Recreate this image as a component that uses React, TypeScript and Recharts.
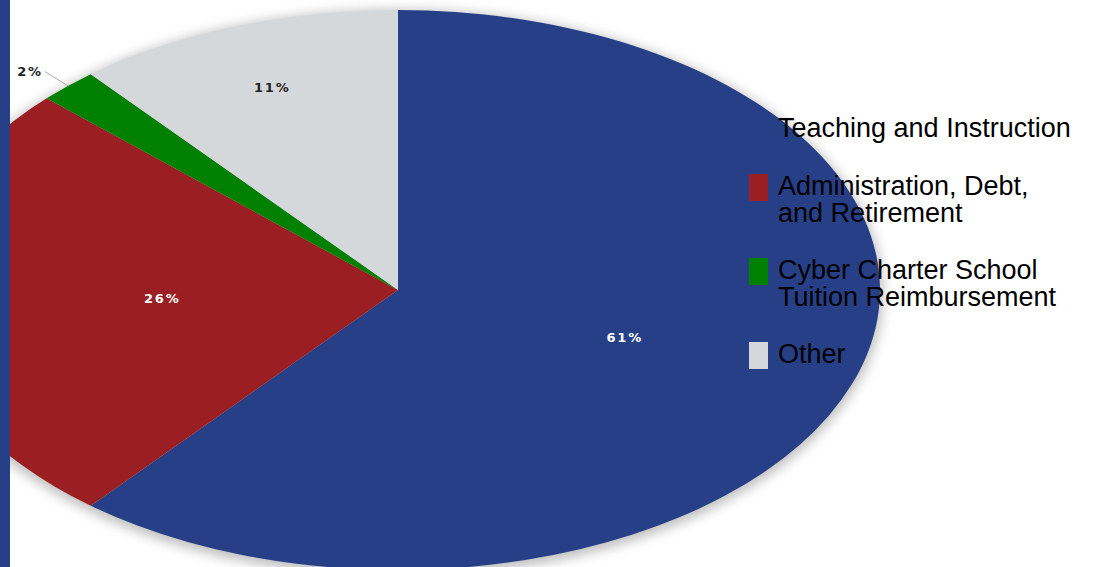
import React from 'react';
import { PieChart, Pie, Cell, Legend } from 'recharts';

const categories = [
  'Teaching and Instruction',
  'Administration, Debt, and Retirement',
  'Cyber Charter School Tuition Reimbursement',
  'Other',
];
const shares = [61, 26, 2, 11];
const legendLines = [
  ['Teaching and Instruction'],
  ['Administration, Debt,', 'and Retirement'],
  ['Cyber Charter School', 'Tuition Reimbursement'],
  ['Other'],
];

const COLORS = ['#263F87', '#9B1E22', '#008000', '#D5D8DB'];
const LABEL_COLORS = ['#FFFFFF', '#FFFFFF', '#222222', '#222222'];
const LABEL_RADIUS = [0.5, 0.49, 1.07, 0.77];
const RATIO = 482 / 280;
const RAD = Math.PI / 180;

const data = categories.map((name, i) => ({ name, value: shares[i] }));
const backdrop = [{ name: 'shadow', value: 1 }];

const ellipsePoint = (cx: number, cy: number, r: number, a: number, f = 1) => [
  cx + r * RATIO * f * Math.cos(-a * RAD),
  cy + r * f * Math.sin(-a * RAD),
];

const EllipseSector = (props: any) => {
  const { cx, cy, outerRadius, startAngle, endAngle, fill } = props;
  const rx = outerRadius * RATIO;
  const ry = outerRadius;
  const [x1, y1] = ellipsePoint(cx, cy, outerRadius, startAngle);
  const [x2, y2] = ellipsePoint(cx, cy, outerRadius, endAngle);
  const large = Math.abs(endAngle - startAngle) > 180 ? 1 : 0;
  const sweep = startAngle > endAngle ? 1 : 0;
  const d = `M${cx},${cy} L${x1},${y1} A${rx},${ry} 0 ${large} ${sweep} ${x2},${y2} Z`;
  return <path d={d} fill={fill} stroke="none" />;
};

const ShadowShape = (props: any) => {
  const { cx, cy, outerRadius } = props;
  return (
    <g>
      <defs>
        <filter id="pieShadow" x="-20%" y="-20%" width="140%" height="140%">
          <feGaussianBlur stdDeviation="6" />
        </filter>
      </defs>
      <ellipse
        cx={cx}
        cy={cy + 3}
        rx={outerRadius * RATIO + 3}
        ry={outerRadius + 3}
        fill="#8a8a8a"
        opacity={0.55}
        filter="url(#pieShadow)"
      />
    </g>
  );
};

const renderLabel = (props: any) => {
  const { cx, cy, midAngle, outerRadius, index, value } = props;
  const f = LABEL_RADIUS[index];
  const [x, y] = ellipsePoint(cx, cy, outerRadius, midAngle, f);
  const text = `${value}%`;
  const style = {
    fontFamily: 'DejaVu Sans, Verdana, sans-serif',
    fontWeight: 700,
    fontSize: 13,
    letterSpacing: 1.8,
  } as React.CSSProperties;
  if (f > 1) {
    const [ex, ey] = ellipsePoint(cx, cy, outerRadius, midAngle, 1);
    return (
      <g>
        <polyline points={`${ex},${ey} ${x},${y}`} stroke="#aaaaaa" strokeWidth={1} fill="none" />
        <text x={x - 2} y={y} textAnchor="end" dominantBaseline="central" fill={LABEL_COLORS[index]} style={style}>
          {text}
        </text>
      </g>
    );
  }
  return (
    <text x={x} y={y} textAnchor="middle" dominantBaseline="central" fill={LABEL_COLORS[index]} style={style}>
      {text}
    </text>
  );
};

const renderLegend = (props: any) => {
  const payload = (props.payload || [])
    .filter((e: any) => categories.indexOf(e.value) >= 0)
    .sort((a: any, b: any) => categories.indexOf(a.value) - categories.indexOf(b.value));
  return (
    <div style={{ fontFamily: 'Liberation Sans, Arial, sans-serif', fontSize: 27, lineHeight: '27px', color: '#000' }}>
      {payload.map((entry: any, i: number) => {
        const idx = categories.indexOf(entry.value);
        const lines = legendLines[idx];
        return (
          <div key={i} style={{ display: 'flex', alignItems: 'flex-start', marginBottom: 30 }}>
            <div style={{ width: 19, height: 27, marginTop: 1, marginRight: 10, background: COLORS[idx], flex: 'none' }} />
            <div style={{ whiteSpace: 'nowrap' }}>
              {lines.map((l: string, j: number) => (
                <div key={j} style={{ height: 27 }}>{l}</div>
              ))}
            </div>
          </div>
        );
      })}
    </div>
  );
};

export default function App() {
  return (
    <div style={{ position: 'absolute', left: 0, top: 0, width: 1103, height: 567, background: '#fff', overflow: 'hidden' }}>
      <PieChart width={1103} height={567} margin={{ top: 0, right: 0, bottom: 0, left: 0 }}>
        <Pie
          data={backdrop}
          dataKey="value"
          cx={398}
          cy={290}
          outerRadius={280}
          startAngle={90}
          endAngle={-270}
          isAnimationActive={false}
          legendType="none"
          shape={ShadowShape}
          activeShape={ShadowShape}
          label={false}
          labelLine={false}
        >
          <Cell fill="#888" />
        </Pie>
        <Pie
          data={data}
          dataKey="value"
          nameKey="name"
          cx={398}
          cy={290}
          outerRadius={280}
          startAngle={90}
          endAngle={-270}
          isAnimationActive={false}
          shape={EllipseSector}
          activeShape={EllipseSector}
          label={renderLabel}
          labelLine={false}
          stroke="none"
        >
          {data.map((d, i) => (
            <Cell key={d.name} fill={COLORS[i]} />
          ))}
        </Pie>
        <Legend
          content={renderLegend}
          layout="vertical"
          align="right"
          verticalAlign="top"
          wrapperStyle={{ position: 'absolute', left: 749, top: 115, width: 354 }}
        />
      </PieChart>
      <div style={{ position: 'absolute', left: 0, top: 0, width: 10, height: 567, background: '#263F87' }} />
    </div>
  );
}
